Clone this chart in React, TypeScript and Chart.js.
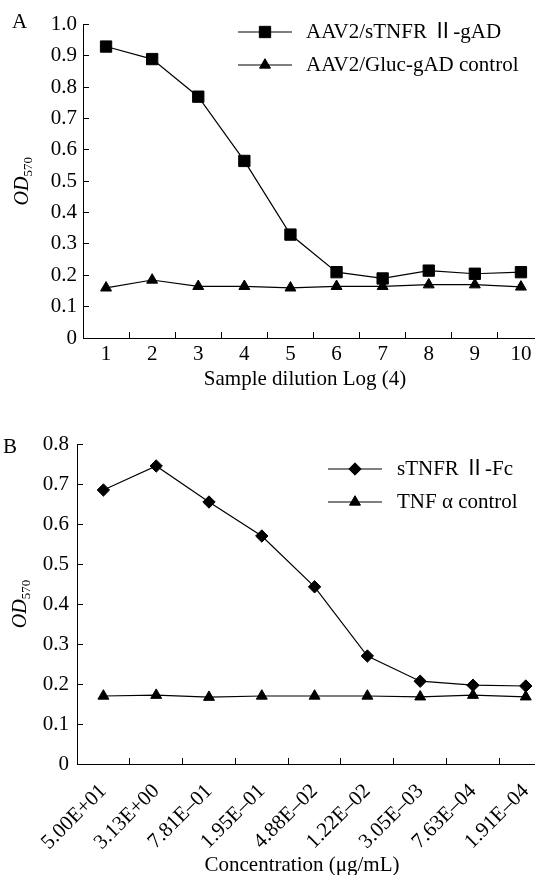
import React, { useEffect, useRef } from 'react';
import { Chart, registerables } from 'chart.js';
import { drawPoint } from 'chart.js/helpers';

Chart.register(...registerables);

const FONT = '"Liberation Serif", "Times New Roman", "Noto Sans CJK SC", serif';

// ---- Panel A data ----
const dilutionLabels = ['1', '2', '3', '4', '5', '6', '7', '8', '9', '10'];
const sTNFRgAD = [0.93, 0.89, 0.77, 0.565, 0.33, 0.21, 0.19, 0.215, 0.205, 0.21];
const glucControl = [0.16, 0.185, 0.165, 0.165, 0.16, 0.165, 0.165, 0.17, 0.17, 0.163];
const seriesNamesA = ['AAV2/sTNFR Ⅱ-gAD', 'AAV2/Gluc-gAD control'];
const yMaxA = 1.0;

// ---- Panel B data ----
const concLabels = ['5.00E+01', '3.13E+00', '7.81E–01', '1.95E–01', '4.88E–02', '1.22E–02', '3.05E–03', '7.63E–04', '1.91E–04'];
const sTNFRFc = [0.685, 0.745, 0.655, 0.57, 0.443, 0.27, 0.207, 0.197, 0.195];
const tnfControl = [0.17, 0.172, 0.167, 0.17, 0.17, 0.17, 0.168, 0.172, 0.168];
const seriesNamesB = ['sTNFR Ⅱ-Fc', 'TNF α control'];
const yMaxB = 0.8;

type DecorCfg = {
  panel: string; panelX: number; panelY: number;
  xTitle: string; xTitleX: number; xTitleY: number;
  yTitleX: number;
  legX0: number; legX1: number; legTextX: number; legRows: number[];
};

function makeDecor(cfg: DecorCfg) {
  return {
    id: 'decor',
    afterDraw(chart: any) {
      const ctx = chart.ctx as CanvasRenderingContext2D;
      const area = chart.chartArea;
      ctx.save();
      ctx.fillStyle = '#000';
      ctx.strokeStyle = '#000';
      // panel letter
      ctx.font = `21px ${FONT}`;
      ctx.textAlign = 'left';
      ctx.textBaseline = 'alphabetic';
      ctx.fillText(cfg.panel, cfg.panelX, cfg.panelY);
      // x title
      ctx.textAlign = 'center';
      ctx.textBaseline = 'middle';
      ctx.fillText(cfg.xTitle, cfg.xTitleX, cfg.xTitleY);
      // y title OD570
      const cy = (area.top + area.bottom) / 2;
      ctx.save();
      ctx.translate(cfg.yTitleX, cy);
      ctx.rotate(-Math.PI / 2);
      ctx.textAlign = 'left';
      ctx.textBaseline = 'alphabetic';
      const mainFont = `italic 20px ${FONT}`;
      const subFont = `13px ${FONT}`;
      ctx.font = mainFont;
      const w1 = ctx.measureText('OD').width;
      ctx.font = subFont;
      const w2 = ctx.measureText('570').width;
      const start = -(w1 + w2) / 2;
      ctx.font = mainFont;
      ctx.fillText('OD', start, 0);
      ctx.font = subFont;
      ctx.fillText('570', start + w1, 4);
      ctx.restore();
      // legend
      chart.data.datasets.forEach((ds: any, i: number) => {
        const y = cfg.legRows[i];
        ctx.lineWidth = 1.2;
        ctx.beginPath();
        ctx.moveTo(cfg.legX0, y);
        ctx.lineTo(cfg.legX1, y);
        ctx.stroke();
        ctx.lineWidth = 1;
        drawPoint(ctx, { pointStyle: ds.pointStyle, radius: ds.pointRadius, rotation: 0, borderWidth: 1 } as any,
          (cfg.legX0 + cfg.legX1) / 2, y);
        ctx.font = `21px ${FONT}`;
        ctx.textAlign = 'left';
        ctx.textBaseline = 'middle';
        ctx.fillText(ds.label, cfg.legTextX, y);
      });
      ctx.restore();
    },
  };
}

function makeConfig(opts: {
  labels: string[]; s1: number[]; s2: number[]; names: string[]; style1: string; r1: number;
  yMax: number; padTop: number; padRight: number; yWidth: number; xHeight: number;
  yPad: number; xPad: number; rotate: boolean; decor: DecorCfg;
}) {
  const tickFont = { family: FONT, size: 21 };
  return {
    type: 'line',
    data: {
      labels: opts.labels,
      datasets: [
        {
          label: opts.names[0], data: opts.s1, borderColor: '#000', backgroundColor: '#000',
          borderWidth: 1.2, pointStyle: opts.style1, pointRadius: opts.r1, pointBorderWidth: 1,
          pointBackgroundColor: '#000', pointBorderColor: '#000', tension: 0,
        },
        {
          label: opts.names[1], data: opts.s2, borderColor: '#000', backgroundColor: '#000',
          borderWidth: 1.2, pointStyle: 'triangle', pointRadius: 6.3, pointBorderWidth: 1,
          pointBackgroundColor: '#000', pointBorderColor: '#000', tension: 0,
        },
      ],
    },
    options: {
      responsive: false,
      animation: false,
      devicePixelRatio: 1,
      layout: { padding: { left: 0, top: opts.padTop, right: opts.padRight, bottom: 0 } },
      plugins: { legend: { display: false }, tooltip: { enabled: false } },
      scales: {
        x: {
          type: 'category',
          offset: true,
          grid: { offset: true, drawOnChartArea: false, tickLength: -6, color: '#000', lineWidth: 1 },
          border: { display: true, color: '#000', width: 1 },
          ticks: {
            color: '#000', font: tickFont, padding: opts.xPad, autoSkip: false,
            maxRotation: opts.rotate ? 45 : 0, minRotation: opts.rotate ? 45 : 0,
          },
          afterFit: (s: any) => { s.height = opts.xHeight; },
        },
        y: {
          min: 0, max: opts.yMax,
          grid: { drawOnChartArea: false, tickLength: -6, color: '#000', lineWidth: 1 },
          border: { display: true, color: '#000', width: 1 },
          ticks: {
            stepSize: 0.1, color: '#000', font: tickFont, padding: opts.yPad,
            callback: (v: number) => (Math.abs(v) < 1e-9 ? '0' : Number(v).toFixed(1)),
          },
          afterFit: (s: any) => { s.width = opts.yWidth; },
        },
      },
    },
    plugins: [makeDecor(opts.decor)],
  };
}

function ChartBox({ config, width, height, top }: { config: any; width: number; height: number; top: number }) {
  const ref = useRef<HTMLCanvasElement>(null);
  useEffect(() => {
    if (!ref.current) return;
    const c = new Chart(ref.current, config);
    return () => c.destroy();
  }, []);
  return (
    <div style={{ position: 'absolute', left: 0, top, width: 535, height, overflow: 'hidden' }}>
      <canvas ref={ref} width={width} height={height} style={{ display: 'block', width, height }} />
    </div>
  );
}

const configA = makeConfig({
  labels: dilutionLabels, s1: sTNFRgAD, s2: glucControl, names: seriesNamesA, style1: 'rect', r1: 8,
  yMax: yMaxA, padTop: 19, padRight: 16, yWidth: 83, xHeight: 52, yPad: 12, xPad: 10, rotate: false,
  decor: {
    panel: 'A', panelX: 12, panelY: 28,
    xTitle: 'Sample dilution Log (4)', xTitleX: 305, xTitleY: 379,
    yTitleX: 28,
    legX0: 238, legX1: 292, legTextX: 306, legRows: [32, 65],
  },
});

const configB = makeConfig({
  labels: concLabels, s1: sTNFRFc, s2: tnfControl, names: seriesNamesB, style1: 'rectRot', r1: 6.2,
  yMax: yMaxB, padTop: 54, padRight: 7, yWidth: 77, xHeight: 111, yPad: 14, xPad: 21, rotate: true,
  decor: {
    panel: 'B', panelX: 3, panelY: 63,
    xTitle: 'Concentration (μg/mL)', xTitleX: 302, xTitleY: 475,
    yTitleX: 26,
    legX0: 328, legX1: 382, legTextX: 397, legRows: [79, 112],
  },
});

export default function App() {
  return (
    <div style={{ position: 'absolute', left: 0, top: 0, width: 535, height: 875, overflow: 'hidden', background: '#fff' }}>
      <ChartBox config={configA} width={560} height={390} top={0} />
      <ChartBox config={configB} width={565} height={485} top={390} />
    </div>
  );
}
